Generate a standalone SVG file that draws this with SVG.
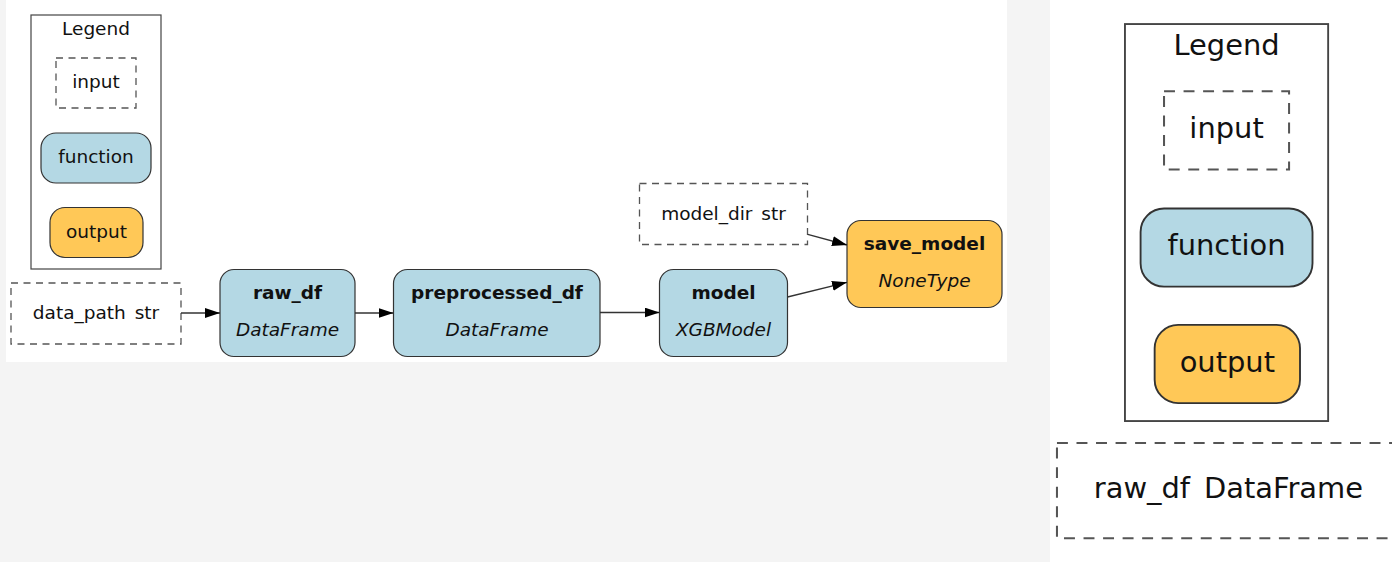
<svg xmlns="http://www.w3.org/2000/svg" width="1392" height="562" viewBox="0 0 1392 562">
<style>
text{font-family:"DejaVu Sans","Liberation Sans",sans-serif;font-size:18.5px;fill:#111;text-anchor:middle}
.b{font-weight:bold}
.i{font-style:italic}
.legend{fill:#fff;stroke:#444;stroke-width:1.2}
.inp{fill:#fff;stroke:#555;stroke-width:1.3;stroke-dasharray:7,5.5}
.fn{fill:#b4d8e4;stroke:#333;stroke-width:1.2}
.out{fill:#ffc857;stroke:#333;stroke-width:1.2}
.edge{fill:none;stroke:#333;stroke-width:1.3;marker-end:url(#ah)}
</style>
<defs>
<marker id="ah" markerUnits="userSpaceOnUse" markerWidth="15" markerHeight="10" refX="15" refY="5" orient="auto">
<path d="M0,0 L15,5 L0,10 z" fill="#000"/>
</marker>
</defs>
<rect x="0" y="0" width="1392" height="562" fill="#f4f4f4"/>
<rect x="6" y="0" width="1001" height="362" fill="#fff"/>
<rect x="1050" y="0" width="342" height="562" fill="#fff"/>

<g id="legend">
<rect class="legend" x="31" y="15" width="130" height="254"/>
<text x="96" y="35">Legend</text>
<g id="legend-input"><rect class="inp" x="56" y="58" width="80" height="50"/><text x="96" y="88">input</text></g>
<g id="legend-function"><rect class="fn" x="41" y="133" width="110" height="50" rx="15"/><text x="96" y="163">function</text></g>
<g id="legend-output"><rect class="out" x="50" y="207.5" width="93" height="50" rx="15"/><text x="96.5" y="237.5">output</text></g>
</g>

<g id="data_path">
<rect class="inp" x="11" y="283" width="170" height="61"/>
<text x="96" y="319" word-spacing="3">data_path str</text>
</g>
<g id="raw_df">
<rect class="fn" x="220" y="269.5" width="135" height="87" rx="14"/>
<text class="b" x="287.5" y="298.5">raw_df</text>
<text class="i" x="287.5" y="335.5">DataFrame</text>
</g>
<g id="preprocessed_df">
<rect class="fn" x="393.5" y="269.5" width="206.5" height="87" rx="14"/>
<text class="b" x="497" y="298.5">preprocessed_df</text>
<text class="i" x="497" y="335.5">DataFrame</text>
</g>
<g id="model">
<rect class="fn" x="659.5" y="269.5" width="128" height="87" rx="14"/>
<text class="b" x="723.5" y="298.5">model</text>
<text class="i" x="723.5" y="335.5">XGBModel</text>
</g>
<g id="model_dir">
<rect class="inp" x="639.5" y="183.5" width="168" height="61"/>
<text x="723.5" y="220" word-spacing="3">model_dir str</text>
</g>
<g id="save_model">
<rect class="out" x="847" y="220.5" width="155" height="87" rx="14"/>
<text class="b" x="924.5" y="249.5">save_model</text>
<text class="i" x="924.5" y="286.5">NoneType</text>
</g>

<g id="connectors">
<path class="edge" d="M181,313 L220,313"/>
<path class="edge" d="M355,313 L393.5,313"/>
<path class="edge" d="M600,312.5 L659.5,312.5"/>
<path class="edge" d="M787.5,297 L847,282.3"/>
<path class="edge" d="M807.7,234.3 L847,245"/>
</g>

<g id="zoomed-view" transform="matrix(1.563 0 0 1.563 1076.5 0.6)">
<g id="legend-zoom">
<rect class="legend" x="31" y="15" width="130" height="254"/>
<text x="96" y="35">Legend</text>
<g id="legend-zoom-input"><rect class="inp" x="56" y="58" width="80" height="50"/><text x="96" y="88">input</text></g>
<g id="legend-zoom-function"><rect class="fn" x="41" y="133" width="110" height="50" rx="15"/><text x="96" y="163">function</text></g>
<g id="legend-zoom-output"><rect class="out" x="50" y="207.5" width="93" height="50" rx="15"/><text x="96.5" y="237.5">output</text></g>
</g>
<g id="raw_df-input">
<rect class="inp" x="-12.5" y="283" width="219" height="61"/>
<text x="97.2" y="318.5" word-spacing="3">raw_df DataFrame</text>
</g>
</g>
</svg>
